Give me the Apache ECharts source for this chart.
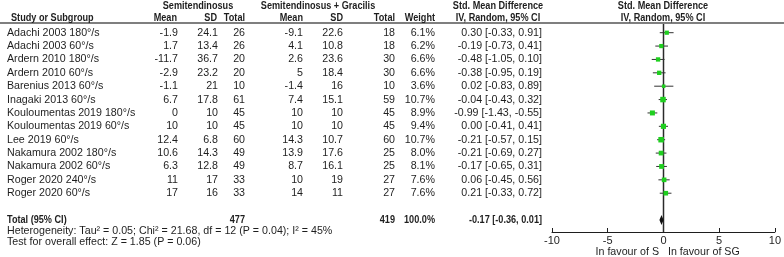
<!DOCTYPE html>
<html>
<head>
<meta charset="utf-8">
<script src="https://cdn.jsdelivr.net/npm/echarts@6/dist/echarts.min.js"></script>
<style>
  html, body { margin: 0; padding: 0; background: #fff; }
  #forest_chart { width: 784px; height: 257px; }
</style>
</head>
<body>
<div id="forest_chart"></div>
<script>
// 数据
var studies = ['Adachi 2003 180°/s', 'Adachi 2003 60°/s', 'Ardern 2010 180°/s', 'Ardern 2010 60°/s',
  'Barenius 2013 60°/s', 'Inagaki 2013 60°/s', 'Kouloumentas 2019 180°/s', 'Kouloumentas 2019 60°/s',
  'Lee 2019 60°/s', 'Nakamura 2002 180°/s', 'Nakamura 2002 60°/s', 'Roger 2020 240°/s', 'Roger 2020 60°/s']
var meanS = [-1.9, 1.7, -11.7, -2.9, -1.1, 6.7, 0, 10, 12.4, 10.6, 6.3, 11, 17]
var sdS = [24.1, 13.4, 36.7, 23.2, 21, 17.8, 10, 10, 6.8, 14.3, 12.8, 17, 16]
var totalS = [26, 26, 20, 20, 10, 61, 45, 45, 60, 49, 49, 33, 33]
var meanSG = [-9.1, 4.1, 2.6, 5, -1.4, 7.4, 10, 10, 14.3, 13.9, 8.7, 10, 14]
var sdSG = [22.6, 10.8, 23.6, 18.4, 16, 15.1, 10, 10, 10.7, 17.6, 16.1, 19, 11]
var totalSG = [18, 18, 30, 30, 10, 59, 45, 45, 60, 25, 25, 27, 27]
var weights = [6.1, 6.2, 6.6, 6.6, 3.6, 10.7, 8.9, 9.4, 10.7, 8.0, 8.1, 7.6, 7.6]
var smd = [0.30, -0.19, -0.48, -0.38, 0.02, -0.04, -0.99, 0.00, -0.21, -0.21, -0.17, 0.06, 0.21]
var ciLow = [-0.33, -0.73, -1.05, -0.95, -0.83, -0.43, -1.43, -0.41, -0.57, -0.69, -0.65, -0.45, -0.33]
var ciHigh = [0.91, 0.41, 0.10, 0.19, 0.89, 0.32, -0.55, 0.41, 0.15, 0.27, 0.31, 0.56, 0.72]
var pooled = [-0.17, -0.36, 0.01]
var noEffect = 0
var xTicks = [-10, -5, 0, 5, 10]
var totalRow = 14

var FONT = '"Liberation Sans", Arial, sans-serif'
var INK = '#1e1e1e'

// bold text in the reference is a narrow face, so squeeze it
function txt (text, x, y, align, bold) {
  return {
    type: 'text',
    x: x, y: y, scaleX: bold ? 0.83 : 0.97,
    style: {
      text: text, x: 0, y: 0, align: align, verticalAlign: 'middle',
      fontFamily: FONT, fontWeight: bold ? 'bold' : 'normal',
      fontSize: 11, fill: INK,
    },
  }
}
function ci (v, lo, hi) {
  return v.toFixed(2) + ' [' + lo.toFixed(2) + ', ' + hi.toFixed(2) + ']'
}

var sumS = totalS.reduce(function (a, b) { return a + b }, 0)
var sumSG = totalSG.reduce(function (a, b) { return a + b }, 0)

var tableData = studies.map(function (s, i) { return [i, 0] })
var forestData = smd.map(function (v, i) { return [i, v, ciLow[i], ciHigh[i], weights[i]] })

var myChart = echarts.init(document.getElementById('forest_chart'))
var option = {
  animation: false,
  grid: { left: 552, right: 9, top: 24, bottom: 25 },
  xAxis: {
    type: 'value', min: -10, max: 10, interval: 5,
    axisLine: { onZero: false, lineStyle: { color: INK } },
    axisTick: { inside: true, length: 4, lineStyle: { color: INK } },
    axisLabel: {
      color: INK, fontSize: 11, fontFamily: FONT, margin: 3,
      formatter: function (v) { return xTicks.indexOf(v) >= 0 ? String(v) : '' },
    },
    splitLine: { show: false },
  },
  yAxis: {
    type: 'value', inverse: true, min: -0.65, max: 14.9,
    axisLine: { show: false },
    axisTick: { show: false },
    axisLabel: { show: false },
    splitLine: { show: false },
  },
  graphic: [
    { type: 'line', shape: { x1: 0, y1: 23, x2: 784, y2: 23 }, style: { stroke: '#555', lineWidth: 1.5 } },
    txt('Semitendinosus', 198, 6, 'center', true),
    txt('Semitendinosus + Gracilis', 318, 6, 'center', true),
    txt('Std. Mean Difference', 498, 6, 'center', true),
    txt('Std. Mean Difference', 663, 6, 'center', true),
    txt('Study or Subgroup', 11, 17.5, 'left', true),
    txt('Mean', 177, 17.5, 'right', true),
    txt('SD', 217, 17.5, 'right', true),
    txt('Total', 245, 17.5, 'right', true),
    txt('Mean', 303, 17.5, 'right', true),
    txt('SD', 343, 17.5, 'right', true),
    txt('Total', 395, 17.5, 'right', true),
    txt('Weight', 435, 17.5, 'right', true),
    txt('IV, Random, 95% CI', 498, 17.5, 'center', true),
    txt('IV, Random, 95% CI', 663, 17.5, 'center', true),
    txt('Heterogeneity: Tau² = 0.05; Chi² = 21.68, df = 12 (P = 0.04); I² = 45%', 7, 231, 'left', false),
    txt('Test for overall effect: Z = 1.85 (P = 0.06)', 7, 242, 'left', false),
    txt('In favour of S', 659, 252, 'right', false),
    txt('In favour of SG', 668, 252, 'left', false),
  ],
  series: [
    {
      // 表格文字
      type: 'custom', clip: false, silent: true,
      data: tableData.concat([[totalRow, 0]]),
      encode: { x: 1, y: 0 },
      renderItem: function (params, api) {
        var row = api.value(0)
        var y = api.coord([0, row])[1]
        if (row === totalRow) {
          return {
            type: 'group',
            children: [
              txt('Total (95% CI)', 7, y, 'left', true),
              txt(String(sumS), 245, y, 'right', true),
              txt(String(sumSG), 395, y, 'right', true),
              txt('100.0%', 435, y, 'right', true),
              txt(ci(pooled[0], pooled[1], pooled[2]), 542, y, 'right', true),
            ],
          }
        }
        var i = row
        return {
          type: 'group',
          children: [
            txt(studies[i], 7, y, 'left'),
            txt(String(meanS[i]), 178, y, 'right'),
            txt(String(sdS[i]), 218, y, 'right'),
            txt(String(totalS[i]), 245, y, 'right'),
            txt(String(meanSG[i]), 303, y, 'right'),
            txt(String(sdSG[i]), 343, y, 'right'),
            txt(String(totalSG[i]), 395, y, 'right'),
            txt(weights[i].toFixed(1) + '%', 435, y, 'right'),
            txt(ci(smd[i], ciLow[i], ciHigh[i]), 542, y, 'right'),
          ],
        }
      },
    },
    {
      // 合并效应菱形 + 零线
      type: 'custom', clip: false,
      data: [[totalRow, pooled[0], pooled[1], pooled[2]]],
      encode: { x: [1, 2, 3], y: 0 },
      renderItem: function (params, api) {
        var row = api.value(0)
        var m = api.coord([api.value(1), row])
        var lo = api.coord([api.value(2), row])
        var hi = api.coord([api.value(3), row])
        var top = api.coord([noEffect, -0.65])
        var bottom = api.coord([noEffect, 14.9])
        var zx = Math.round(top[0])
        return {
          type: 'group',
          children: [
            { type: 'rect', shape: { x: zx - 0.25, y: top[1], width: 1.5, height: bottom[1] - top[1] }, style: { fill: '#2a2a2a' } },
            {
              type: 'polygon',
              shape: { points: [[lo[0], m[1]], [m[0], m[1] - 5], [hi[0], m[1]], [m[0], m[1] + 5]] },
              style: { fill: '#111' },
            },
          ],
        }
      },
    },
    {
      // 置信区间和方块
      type: 'custom', clip: false,
      data: forestData,
      encode: { x: [1, 2, 3], y: 0 },
      renderItem: function (params, api) {
        var row = api.value(0)
        var p = api.coord([api.value(1), row])
        var lo = api.coord([api.value(2), row])
        var hi = api.coord([api.value(3), row])
        var s = 2.5 + api.value(4) * 0.28
        return {
          type: 'group',
          children: [
            { type: 'line', shape: { x1: lo[0], y1: p[1], x2: hi[0], y2: p[1] }, style: { stroke: '#333', lineWidth: 1 } },
            { type: 'rect', shape: { x: p[0] - s / 2, y: p[1] - s / 2, width: s, height: s }, style: { fill: '#1fcf1f' } },
          ],
        }
      },
    },
  ],
}
myChart.setOption(option)
window.onresize = myChart.resize
</script>
</body>
</html>
